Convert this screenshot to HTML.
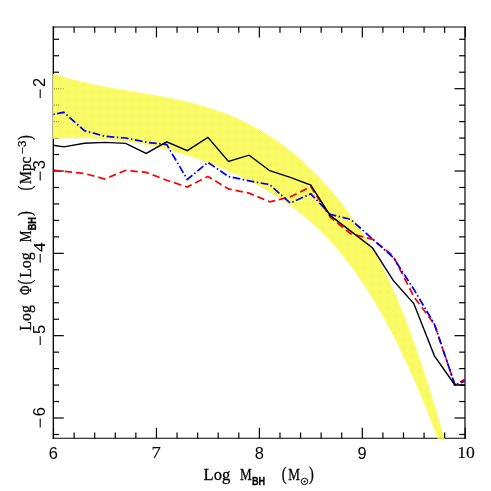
<!DOCTYPE html>
<html><head><meta charset="utf-8"><title>plot</title>
<style>
html,body{margin:0;padding:0;background:#fff;}
body{width:491px;height:491px;overflow:hidden;}
svg{display:block;}
.dser{font-family:"Liberation Serif",serif;font-size:17px;fill:#000;stroke:#000;stroke-width:0.12px;}
.dsan{font-family:"Liberation Sans",sans-serif;font-size:15.8px;fill:#000;}
.serif{font-family:"Liberation Serif",serif;font-size:17.5px;fill:#000;stroke:#000;stroke-width:0.3px;}
.par{font-size:19px;}
.sub{font-family:"Liberation Sans",sans-serif;font-size:10.6px;font-weight:bold;fill:#000;stroke:#000;stroke-width:0.3px;}
</style></head><body>
<svg width="491" height="491" viewBox="0 0 491 491">
<defs>
<pattern id="hatch" width="2" height="2" patternUnits="userSpaceOnUse">
<rect width="2" height="2" fill="#ffff24"/>
<rect width="1" height="1" fill="#ffff6a"/><rect x="1" y="1" width="1" height="1" fill="#ffff6a"/>
</pattern>
<clipPath id="clip"><rect x="53.3" y="27.0" width="411.7" height="411.25"/></clipPath>
</defs>
<rect width="491" height="491" fill="#fff"/>
<g stroke="#000" stroke-width="1.2" fill="none">
<line x1="53.52" y1="438.25" x2="53.52" y2="427.75"/><line x1="53.52" y1="27.0" x2="53.52" y2="37.5"/><line x1="74.11" y1="438.25" x2="74.11" y2="432.45"/><line x1="74.11" y1="27.0" x2="74.11" y2="32.8"/><line x1="94.69" y1="438.25" x2="94.69" y2="432.45"/><line x1="94.69" y1="27.0" x2="94.69" y2="32.8"/><line x1="115.28" y1="438.25" x2="115.28" y2="432.45"/><line x1="115.28" y1="27.0" x2="115.28" y2="32.8"/><line x1="135.86" y1="438.25" x2="135.86" y2="432.45"/><line x1="135.86" y1="27.0" x2="135.86" y2="32.8"/><line x1="156.45" y1="438.25" x2="156.45" y2="427.75"/><line x1="156.45" y1="27.0" x2="156.45" y2="37.5"/><line x1="177.04" y1="438.25" x2="177.04" y2="432.45"/><line x1="177.04" y1="27.0" x2="177.04" y2="32.8"/><line x1="197.62" y1="438.25" x2="197.62" y2="432.45"/><line x1="197.62" y1="27.0" x2="197.62" y2="32.8"/><line x1="218.21" y1="438.25" x2="218.21" y2="432.45"/><line x1="218.21" y1="27.0" x2="218.21" y2="32.8"/><line x1="238.79" y1="438.25" x2="238.79" y2="432.45"/><line x1="238.79" y1="27.0" x2="238.79" y2="32.8"/><line x1="259.38" y1="438.25" x2="259.38" y2="427.75"/><line x1="259.38" y1="27.0" x2="259.38" y2="37.5"/><line x1="279.97" y1="438.25" x2="279.97" y2="432.45"/><line x1="279.97" y1="27.0" x2="279.97" y2="32.8"/><line x1="300.55" y1="438.25" x2="300.55" y2="432.45"/><line x1="300.55" y1="27.0" x2="300.55" y2="32.8"/><line x1="321.14" y1="438.25" x2="321.14" y2="432.45"/><line x1="321.14" y1="27.0" x2="321.14" y2="32.8"/><line x1="341.72" y1="438.25" x2="341.72" y2="432.45"/><line x1="341.72" y1="27.0" x2="341.72" y2="32.8"/><line x1="362.31" y1="438.25" x2="362.31" y2="427.75"/><line x1="362.31" y1="27.0" x2="362.31" y2="37.5"/><line x1="382.90" y1="438.25" x2="382.90" y2="432.45"/><line x1="382.90" y1="27.0" x2="382.90" y2="32.8"/><line x1="403.48" y1="438.25" x2="403.48" y2="432.45"/><line x1="403.48" y1="27.0" x2="403.48" y2="32.8"/><line x1="424.07" y1="438.25" x2="424.07" y2="432.45"/><line x1="424.07" y1="27.0" x2="424.07" y2="32.8"/><line x1="444.65" y1="438.25" x2="444.65" y2="432.45"/><line x1="444.65" y1="27.0" x2="444.65" y2="32.8"/><line x1="465.24" y1="438.25" x2="465.24" y2="427.75"/><line x1="465.24" y1="27.0" x2="465.24" y2="37.5"/><line x1="53.3" y1="434.47" x2="59.099999999999994" y2="434.47"/><line x1="465.0" y1="434.47" x2="459.2" y2="434.47"/><line x1="53.3" y1="418.00" x2="63.8" y2="418.00"/><line x1="465.0" y1="418.00" x2="454.5" y2="418.00"/><line x1="53.3" y1="401.53" x2="59.099999999999994" y2="401.53"/><line x1="465.0" y1="401.53" x2="459.2" y2="401.53"/><line x1="53.3" y1="385.07" x2="59.099999999999994" y2="385.07"/><line x1="465.0" y1="385.07" x2="459.2" y2="385.07"/><line x1="53.3" y1="368.60" x2="59.099999999999994" y2="368.60"/><line x1="465.0" y1="368.60" x2="459.2" y2="368.60"/><line x1="53.3" y1="352.14" x2="59.099999999999994" y2="352.14"/><line x1="465.0" y1="352.14" x2="459.2" y2="352.14"/><line x1="53.3" y1="335.67" x2="63.8" y2="335.67"/><line x1="465.0" y1="335.67" x2="454.5" y2="335.67"/><line x1="53.3" y1="319.20" x2="59.099999999999994" y2="319.20"/><line x1="465.0" y1="319.20" x2="459.2" y2="319.20"/><line x1="53.3" y1="302.74" x2="59.099999999999994" y2="302.74"/><line x1="465.0" y1="302.74" x2="459.2" y2="302.74"/><line x1="53.3" y1="286.27" x2="59.099999999999994" y2="286.27"/><line x1="465.0" y1="286.27" x2="459.2" y2="286.27"/><line x1="53.3" y1="269.81" x2="59.099999999999994" y2="269.81"/><line x1="465.0" y1="269.81" x2="459.2" y2="269.81"/><line x1="53.3" y1="253.34" x2="63.8" y2="253.34"/><line x1="465.0" y1="253.34" x2="454.5" y2="253.34"/><line x1="53.3" y1="236.87" x2="59.099999999999994" y2="236.87"/><line x1="465.0" y1="236.87" x2="459.2" y2="236.87"/><line x1="53.3" y1="220.41" x2="59.099999999999994" y2="220.41"/><line x1="465.0" y1="220.41" x2="459.2" y2="220.41"/><line x1="53.3" y1="203.94" x2="59.099999999999994" y2="203.94"/><line x1="465.0" y1="203.94" x2="459.2" y2="203.94"/><line x1="53.3" y1="187.48" x2="59.099999999999994" y2="187.48"/><line x1="465.0" y1="187.48" x2="459.2" y2="187.48"/><line x1="53.3" y1="171.01" x2="63.8" y2="171.01"/><line x1="465.0" y1="171.01" x2="454.5" y2="171.01"/><line x1="53.3" y1="154.54" x2="59.099999999999994" y2="154.54"/><line x1="465.0" y1="154.54" x2="459.2" y2="154.54"/><line x1="53.3" y1="138.08" x2="59.099999999999994" y2="138.08"/><line x1="465.0" y1="138.08" x2="459.2" y2="138.08"/><line x1="53.3" y1="121.61" x2="59.099999999999994" y2="121.61"/><line x1="465.0" y1="121.61" x2="459.2" y2="121.61"/><line x1="53.3" y1="105.15" x2="59.099999999999994" y2="105.15"/><line x1="465.0" y1="105.15" x2="459.2" y2="105.15"/><line x1="53.3" y1="88.68" x2="63.8" y2="88.68"/><line x1="465.0" y1="88.68" x2="454.5" y2="88.68"/><line x1="53.3" y1="72.21" x2="59.099999999999994" y2="72.21"/><line x1="465.0" y1="72.21" x2="459.2" y2="72.21"/><line x1="53.3" y1="55.75" x2="59.099999999999994" y2="55.75"/><line x1="465.0" y1="55.75" x2="459.2" y2="55.75"/><line x1="53.3" y1="39.28" x2="59.099999999999994" y2="39.28"/><line x1="465.0" y1="39.28" x2="459.2" y2="39.28"/>
</g>
<g stroke="#000" fill="none" stroke-linecap="square">
<line x1="53.3" y1="27.0" x2="53.3" y2="438.25" stroke-width="1.3"/>
<line x1="465.0" y1="27.0" x2="465.0" y2="438.25" stroke-width="1.2"/>
<line x1="53.3" y1="27.0" x2="465.0" y2="27.0" stroke-width="1.2"/>
<line x1="53.3" y1="438.25" x2="465.0" y2="438.25" stroke-width="1.2"/>
</g>
<polygon points="52.8,73.6 53.3,73.7 58.3,75.3 63.2,76.8 68.2,78.2 73.1,79.5 78.1,80.8 83.0,82.0 88.0,83.1 92.9,84.2 97.9,85.2 102.8,86.2 107.8,87.1 112.7,88.0 117.7,88.9 122.6,89.7 127.6,90.6 132.6,91.4 137.5,92.2 142.5,93.0 147.4,93.9 152.4,94.8 157.3,95.6 162.3,96.6 167.2,97.5 172.2,98.5 177.1,99.5 182.1,100.6 187.0,101.8 192.0,103.0 196.9,104.3 201.9,105.7 206.8,107.2 211.8,108.7 216.8,110.4 221.7,112.2 226.7,114.0 231.6,116.0 236.6,118.1 241.5,120.4 246.5,122.8 251.4,125.3 256.4,127.9 261.3,130.8 266.3,133.8 271.2,136.9 276.2,140.2 281.1,143.7 286.1,147.4 291.1,151.3 296.0,155.4 301.0,159.7 305.9,164.2 310.9,168.9 315.8,173.9 320.8,179.0 325.7,184.4 330.7,190.1 335.6,196.0 340.6,202.1 345.5,208.6 350.5,215.2 355.4,222.2 360.4,229.5 365.3,237.1 370.3,245.1 375.3,253.6 380.2,262.7 385.2,272.3 390.1,282.7 395.1,293.7 400.0,305.4 405.0,317.8 409.9,330.9 414.9,344.6 419.8,358.9 424.8,373.7 429.7,389.2 434.7,405.2 439.6,421.7 444.6,438.7 445.4,439.0 437.5,439.0 437.8,439.3 432.9,426.2 428.1,413.6 423.2,401.5 418.3,389.7 413.5,378.4 408.6,367.5 403.7,356.9 398.9,346.8 394.0,337.1 389.1,327.7 384.3,318.7 379.4,310.0 374.5,301.7 369.7,293.8 364.8,286.2 359.9,278.9 355.1,271.9 350.2,265.3 345.3,258.9 340.5,252.9 335.6,247.2 330.7,241.7 325.9,236.5 321.0,231.6 316.1,226.9 311.3,222.4 306.4,218.2 301.5,214.2 296.7,210.3 291.8,206.7 286.9,203.2 282.1,199.9 277.2,196.8 272.3,193.8 267.5,190.9 262.6,188.1 257.7,185.4 252.9,182.9 248.0,180.4 243.1,178.0 238.2,175.6 233.4,173.4 228.5,171.2 223.6,169.0 218.8,167.0 213.9,165.0 209.0,163.1 204.2,161.3 199.3,159.5 194.4,157.8 189.6,156.2 184.7,154.7 179.8,153.2 175.0,151.8 170.1,150.5 165.2,149.2 160.4,148.0 155.5,146.9 150.6,145.8 145.8,144.8 140.9,143.9 136.0,143.1 131.2,142.3 126.3,141.6 121.4,140.9 116.6,140.3 111.7,139.8 106.8,139.4 102.0,139.0 97.1,138.7 92.2,138.5 87.4,138.3 82.5,138.2 77.6,138.1 72.8,138.1 67.9,138.2 63.0,138.3 58.2,138.5 53.3,138.8 52.8,138.8" fill="url(#hatch)"/>
<g stroke="#000" fill="none">
<line x1="53.3" y1="74.5" x2="53.3" y2="138.5" stroke-width="1.3" stroke-opacity="0.06"/>
<line x1="53.8" y1="88.68" x2="63.8" y2="88.68" stroke-width="1.1" stroke-opacity="0.4" stroke-dasharray="1.1 1.1"/>
<line x1="53.8" y1="105.15" x2="59.099999999999994" y2="105.15" stroke-width="1.1" stroke-opacity="0.4" stroke-dasharray="1.1 1.1"/>
<line x1="53.8" y1="121.61" x2="59.099999999999994" y2="121.61" stroke-width="1.1" stroke-opacity="0.4" stroke-dasharray="1.1 1.1"/>
<line x1="437.5" y1="438.25" x2="445" y2="438.25" stroke-width="1.4" stroke-opacity="0.15"/>
<line x1="444.65" y1="432.45" x2="444.65" y2="438.25" stroke-width="1.1" stroke-opacity="0.3" stroke-dasharray="1.1 1.1"/>
</g>
<g fill="none" stroke-linejoin="miter" clip-path="url(#clip)">
<polyline points="53.3,170.2 63.8,171.4 84.4,173.5 105.0,179.0 125.6,170.3 146.2,172.4 166.7,180.3 187.3,187.0 207.9,176.4 228.5,188.9 249.1,193.2 269.7,201.8 290.3,196.9 310.8,186.6 330.1,217.0 350.7,233.8 372.6,239.3 393.2,256.0 413.8,296.6 434.4,324.3 454.9,385.0 465.0,379.3" stroke="#ff0000" stroke-width="1.75" stroke-dasharray="7.4 4"/>
<polyline points="53.3,114.3 63.8,112.3 84.4,130.7 105.0,136.3 125.6,138.0 146.2,142.2 166.7,144.6 187.3,179.5 207.9,162.4 228.5,176.5 249.1,180.8 269.7,184.7 290.3,203.0 310.8,193.8 330.1,214.3 350.7,219.4 372.6,239.0 393.2,257.5 413.8,289.3 434.4,324.0 454.9,385.0 465.0,381.0" stroke="#0000ff" stroke-width="1.75" stroke-dasharray="7.8 2.5 1.5 2.5" stroke-dashoffset="10.3"/>
<polyline points="53.3,145.3 63.8,146.9 84.4,143.2 105.0,142.4 125.6,143.4 146.2,153.4 166.7,141.8 187.3,150.6 207.9,137.4 228.5,161.4 249.1,155.2 269.7,170.7 290.3,177.3 310.8,185.0 330.1,215.4 350.7,231.1 372.6,248.0 393.2,280.4 413.8,303.6 434.4,355.8 454.9,385.0 465.0,385.0" stroke="#000" stroke-width="1.4"/>
</g>

<g opacity="0.999">
<g><text class="dsan" transform="translate(53.3,458.8) scale(1.04,1)" text-anchor="middle">6</text><text class="dser" transform="translate(156.1,457.8) scale(1.1,1)" text-anchor="middle">7</text><text class="dsan" transform="translate(259.2,458.8) scale(1.04,1)" text-anchor="middle">8</text><text class="dsan" transform="translate(362.1,458.8) scale(1.04,1)" text-anchor="middle">9</text><text class="dser" transform="translate(466,457.8) scale(1.04,1)" text-anchor="middle">10</text><text class="dsan" transform="translate(45.3,82.4) rotate(-90) scale(1.04,1)" text-anchor="middle">2</text><line x1="40.2" y1="89.3" x2="40.2" y2="98.1" stroke="#000" stroke-width="1.1"/><text class="dsan" transform="translate(45.3,164.7) rotate(-90) scale(1.04,1)" text-anchor="middle">3</text><line x1="40.2" y1="171.6" x2="40.2" y2="180.4" stroke="#000" stroke-width="1.1"/><text class="dser" transform="translate(45.2,247.0) rotate(-90) scale(1.1,1)" text-anchor="middle">4</text><line x1="40.2" y1="253.9" x2="40.2" y2="262.7" stroke="#000" stroke-width="1.1"/><text class="dsan" transform="translate(45.3,329.4) rotate(-90) scale(1.04,1)" text-anchor="middle">5</text><line x1="40.2" y1="336.3" x2="40.2" y2="345.1" stroke="#000" stroke-width="1.1"/><text class="dsan" transform="translate(45.3,411.7) rotate(-90) scale(1.04,1)" text-anchor="middle">6</text><line x1="40.2" y1="418.6" x2="40.2" y2="427.4" stroke="#000" stroke-width="1.1"/></g>
<g class="serif">
<text x="203.6" y="479.8" textLength="26.8" lengthAdjust="spacingAndGlyphs">Log</text>
<text x="240.0" y="479.8" textLength="11.7" lengthAdjust="spacingAndGlyphs">M</text>
<text class="par" transform="translate(281.7,479.5) scale(0.76,1)">(</text>
<text x="288.2" y="479.8" textLength="11.7" lengthAdjust="spacingAndGlyphs">M</text>
<text class="par" transform="translate(309.0,479.5) scale(0.76,1)">)</text>
</g>
<text class="sub" x="252.0" y="484.5" textLength="13.2" lengthAdjust="spacingAndGlyphs">BH</text>
<g fill="none" stroke="#000" stroke-width="1"><circle cx="304.5" cy="481.4" r="3.2"/></g><circle cx="304.5" cy="481.4" r="1" fill="#000"/>
<g transform="translate(30.9,0) rotate(-90)">
<g class="serif">
<text x="-330.7" y="0" textLength="25.5" lengthAdjust="spacingAndGlyphs">Log</text>
<text x="-295.0" y="0" textLength="9.5" lengthAdjust="spacingAndGlyphs">&#934;</text>
<text class="par" transform="translate(-284.4,-0.3) scale(0.76,1)">(</text>
<text x="-277.8" y="0" textLength="25.5" lengthAdjust="spacingAndGlyphs">Log</text>
<text x="-242.3" y="0" textLength="11.7" lengthAdjust="spacingAndGlyphs">M</text>
<text class="par" transform="translate(-215.9,-0.3) scale(0.76,1)">)</text>
<text class="par" transform="translate(-190.6,-0.3) scale(0.76,1)">(</text>
<text x="-184.2" y="0" textLength="27.2" lengthAdjust="spacingAndGlyphs">Mpc</text>
<text class="par" transform="translate(-139.9,-0.3) scale(0.76,1)">)</text>
</g>
<text class="sub" x="-230.3" y="4.6" textLength="13.2" lengthAdjust="spacingAndGlyphs">BH</text>
<text class="sub" style="font-weight:normal;stroke:#000;stroke-width:0.15px;font-size:10.5px" x="-154.3" y="-4.6" textLength="13.8" lengthAdjust="spacingAndGlyphs">&#8722;3</text>
</g>
</g>
</svg>
</body></html>
